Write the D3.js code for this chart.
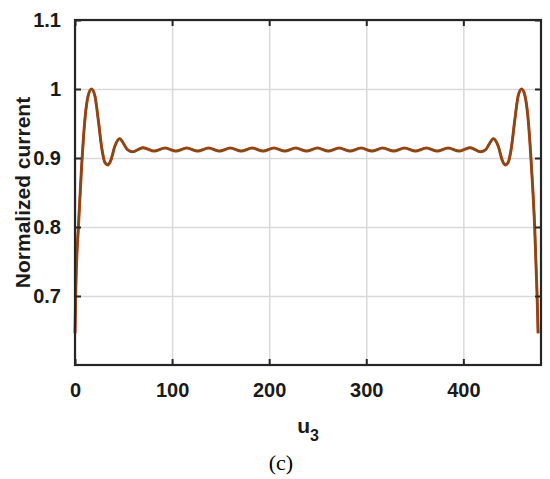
<!DOCTYPE html>
<html lang="en">
<head>
	<meta charset="utf-8">
	<title>Normalized current</title>
	<script src="https://d3js.org/d3.v7.min.js"></script>
	<style type="text/css">
		body { margin: 0; background: #fff; }
		.axis text {
			font-family: "Liberation Sans", Arial, sans-serif;
			font-size: 20px;
			font-weight: bold;
			fill: #1a1a1a;
		}
		.grid line { stroke: #d9d9d9; stroke-width: 1.5; }
	</style>
</head>
<body>
<script type="text/javascript">
// Data: position u3 and normalized current
var uValues = [0, 1, 3.5, 6.5, 10.5, 13.5, 17, 20.5, 24, 27.5, 31, 34, 37, 41, 46, 50, 54,
	59, 70.2, 81.4, 92.7, 103.9, 115.1, 126.3, 137.6, 148.8, 160, 171.2, 182.4, 193.7, 204.9, 216.1, 227.3,
	238.5, 249.7, 260.9, 272.1, 283.4, 294.6, 305.8, 317, 328.2, 339.5, 350.7, 361.9, 373.1, 384.3, 395.6, 406.8,
	418, 423, 427, 431, 436, 440, 443, 446, 449.5, 453, 456.5, 460, 463.5, 466.5, 470.5, 473.5, 476, 477];
var currentValues = [0.646, 0.72, 0.80, 0.88, 0.96, 0.99, 1.0, 0.99, 0.955, 0.915, 0.893, 0.890, 0.897, 0.917, 0.928, 0.921, 0.912,
	0.909, 0.9150, 0.9100, 0.9145, 0.9100, 0.9145, 0.9100, 0.9145, 0.9100, 0.9145, 0.9100, 0.9145, 0.9100, 0.9145, 0.9100, 0.9145,
	0.9100, 0.9145, 0.9100, 0.9145, 0.9100, 0.9145, 0.9100, 0.9145, 0.9100, 0.9145, 0.9100, 0.9145, 0.9100, 0.9145, 0.9100, 0.9150,
	0.909, 0.912, 0.921, 0.928, 0.917, 0.897, 0.890, 0.893, 0.915, 0.955, 0.99, 1.0, 0.99, 0.96, 0.88, 0.80, 0.70, 0.646];

var xTicks = [0, 100, 200, 300, 400];
var yTicks = [0.7, 0.8, 0.9, 1.0, 1.1];

var margin = {top: 20, right: 9, bottom: 114, left: 75};
var outer_width = 550;
var outer_height = 479;
var width = outer_width - margin.left - margin.right;
var height = outer_height - margin.top - margin.bottom;

var dataset = uValues.map(function(u, i) { return {u: u, c: currentValues[i]}; });

var svg = d3.select("body")
	.append("svg")
	.attr("width", outer_width)
	.attr("height", outer_height);

var g = svg.append("g")
	.attr("transform", "translate(" + margin.left + "," + margin.top + ")");

var xScale = d3.scaleLinear().domain([0, 480]).range([0, width]);
var yScale = d3.scaleLinear().domain([0.6, 1.1]).range([height, 0]);

// grid lines
g.append("g")
	.attr("class", "grid")
	.attr("transform", "translate(0," + height + ")")
	.call(d3.axisBottom(xScale).tickValues(xTicks).tickSize(-height).tickFormat(""))
	.call(function(s) { s.select(".domain").remove(); });

g.append("g")
	.attr("class", "grid")
	.call(d3.axisLeft(yScale).tickValues(yTicks).tickSize(-width).tickFormat(""))
	.call(function(s) { s.select(".domain").remove(); });

// the curve: red line underneath, brown line on top
var line = d3.line()
	.x(function(d) { return xScale(d.u); })
	.y(function(d) { return yScale(d.c); })
	.curve(d3.curveMonotoneX);

g.append("path")
	.datum(dataset)
	.attr("fill", "none")
	.attr("stroke", "#d23a1c")
	.attr("stroke-width", 3)
	.attr("d", line);

g.append("path")
	.datum(dataset)
	.attr("fill", "none")
	.attr("stroke", "#7a4e16")
	.attr("stroke-width", 2.2)
	.attr("d", line);

// axes, ticks inward on all four sides
var tickLen = 6;

var xAxis = g.append("g")
	.attr("class", "axis")
	.attr("transform", "translate(0," + height + ")")
	.call(d3.axisBottom(xScale).tickValues(xTicks).tickSizeInner(-tickLen).tickSizeOuter(0).tickPadding(14));
xAxis.selectAll("text").attr("dy", "0.9em");

var yAxis = g.append("g")
	.attr("class", "axis")
	.call(d3.axisLeft(yScale).tickValues(yTicks).tickSizeInner(-tickLen).tickSizeOuter(0).tickPadding(14)
		.tickFormat(function(d) { return d === 1 ? "1" : d3.format(".1f")(d); }));

g.append("g")
	.attr("class", "axis")
	.call(d3.axisTop(xScale).tickValues(xTicks).tickSizeInner(-tickLen).tickSizeOuter(0).tickFormat(""));

g.append("g")
	.attr("class", "axis")
	.attr("transform", "translate(" + width + ",0)")
	.call(d3.axisRight(yScale).tickValues(yTicks).tickSizeInner(-tickLen).tickSizeOuter(0).tickFormat(""));

g.selectAll(".axis .tick line").attr("stroke", "#262626").attr("stroke-width", 2);
g.selectAll(".axis .domain").remove();

// box
g.append("rect")
	.attr("x", 0)
	.attr("y", 0)
	.attr("width", width)
	.attr("height", height)
	.attr("fill", "none")
	.attr("stroke", "#262626")
	.attr("stroke-width", 2.2);

// axis labels
svg.append("text")
	.attr("transform", "translate(30," + (margin.top + height / 2) + ") rotate(-90)")
	.attr("text-anchor", "middle")
	.style("font-family", "Liberation Sans, Arial, sans-serif")
	.style("font-size", "21px")
	.style("font-weight", "bold")
	.style("fill", "#1a1a1a")
	.text("Normalized current");

var xlab = svg.append("text")
	.attr("x", margin.left + width / 2)
	.attr("y", 433)
	.attr("text-anchor", "middle")
	.style("font-family", "Liberation Sans, Arial, sans-serif")
	.style("font-size", "21px")
	.style("font-weight", "bold")
	.style("fill", "#1a1a1a");
xlab.append("tspan").text("u");
xlab.append("tspan").attr("dy", 8).style("font-size", "16px").text("3");

svg.append("text")
	.attr("x", 281)
	.attr("y", 470)
	.attr("text-anchor", "middle")
	.style("font-family", "Liberation Serif, Times New Roman, serif")
	.style("font-size", "22px")
	.style("fill", "#000")
	.text("(c)");
</script>
</body>
</html>
